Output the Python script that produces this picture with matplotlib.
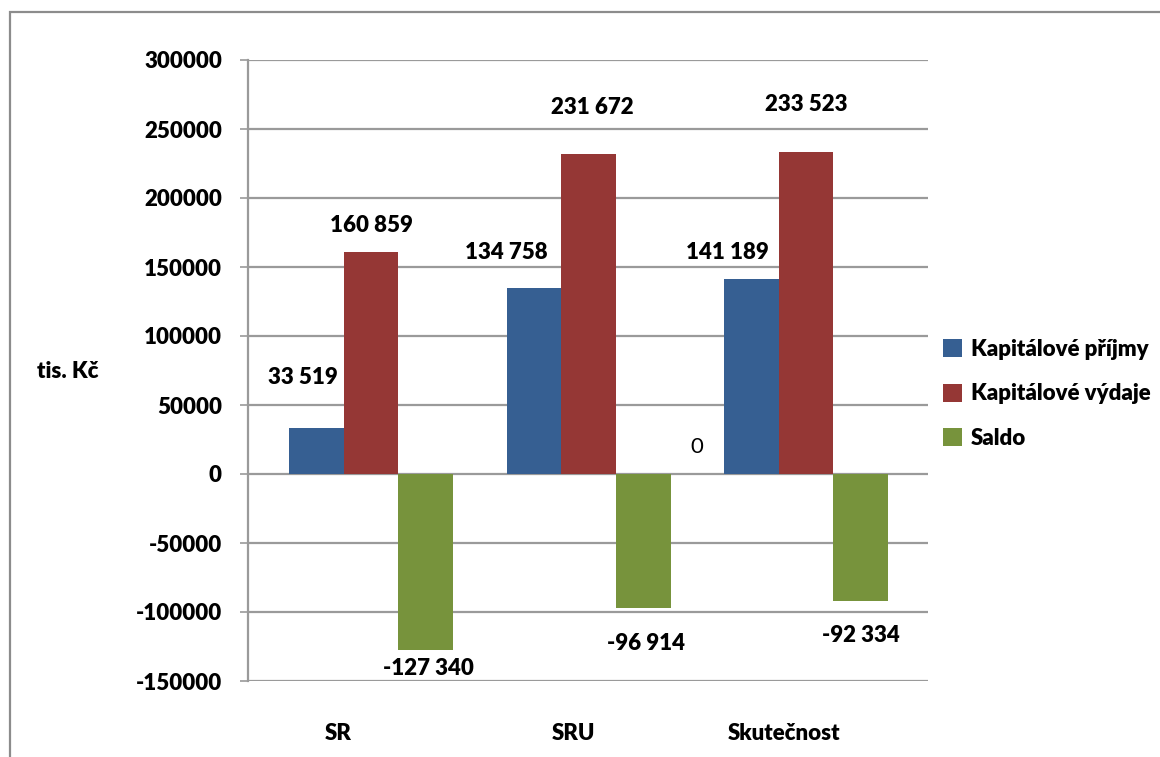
import matplotlib.pyplot as plt
from matplotlib.patches import Rectangle
import numpy as np

plt.rcParams['font.family'] = ['Lato', 'DejaVu Sans']

categories = ["SR", "SRU", "Skutečnost"]
series_names = ["Kapitálové příjmy", "Kapitálové výdaje", "Saldo"]
prijmy = [33519, 134758, 141189]
vydaje = [160859, 231672, 233523]
saldo = [-127340, -96914, -92334]
yticks = [-150000, -100000, -50000, 0, 50000, 100000, 150000, 200000, 250000, 300000]

colors = ["#365F92", "#953735", "#77933C"]
# label offsets in pixels from the bar end (dx, dy)
label_offsets = [
    [(-14, 50), (-28, 36), (-24, 27)],
    [(0, 27), (4, 47), (0, 47)],
    [(3, -19), (3, -36), (0, -34)],
]
wt = "heavy"

def fmt(v):
    return f"{v:,}".replace(",", " ")

fig = plt.figure(figsize=(11.6, 7.57), dpi=100)
ax = fig.add_axes([248 / 1160, 1 - 681 / 757, 680 / 1160, 621 / 757])

x = np.arange(len(categories))
w = 0.2515
grid_c = "#9a9a9a"
for i, vals in enumerate([prijmy, vydaje, saldo]):
    pos = x + (i - 1) * w
    ax.bar(pos, vals, width=w, color=colors[i], label=series_names[i], zorder=3)
    for j, v in enumerate(vals):
        dx, dy = label_offsets[i][j]
        ax.annotate(fmt(v), (pos[j], v), xytext=(dx, dy), textcoords="offset pixels",
                    ha="center", va="center", fontsize=16, fontweight=wt, zorder=4)

ax.annotate("0", (1.5, 0), xytext=(0, 27), textcoords="offset pixels",
            ha="center", va="center", fontsize=16)

ax.set_xlim(-0.566, 2.561)
ax.set_ylim(-150000, 300000)
ax.set_yticks(yticks)
ax.set_yticklabels([str(t) for t in yticks], fontsize=16, fontweight=wt)
ax.yaxis.grid(True, color=grid_c, linewidth=1.6, zorder=0)
ax.tick_params(axis="y", length=5.8, width=1.2, color=grid_c, pad=13)
ax.set_xticks([-0.152, 0.93, 1.9])
ax.set_xticklabels(categories, fontsize=16, fontweight=wt)
ax.tick_params(axis="x", length=0, pad=30)
for s in ["top", "right", "bottom"]:
    ax.spines[s].set_visible(False)
ax.spines["left"].set_color(grid_c)
ax.spines["left"].set_linewidth(1.6)

fig.text(68 / 1160, 1 - 372 / 757, "tis. Kč", ha="center", va="center",
         fontsize=16, fontweight=wt)

leg = fig.legend(loc="upper left", bbox_to_anchor=(943 / 1160, 1 - 339 / 757),
                 frameon=False, prop={"size": 16, "weight": wt},
                 handlelength=0.85, handleheight=0.85, handletextpad=0.4,
                 labelspacing=1.05, borderaxespad=0, borderpad=0)

fig.patches.append(Rectangle((9.5 / 1160, -0.1), 1.2, 1.1 - 12 / 757,
                             transform=fig.transFigure, fill=False,
                             edgecolor="#8c8c8c", linewidth=1.6))

fig.savefig("out.png", dpi=100)
